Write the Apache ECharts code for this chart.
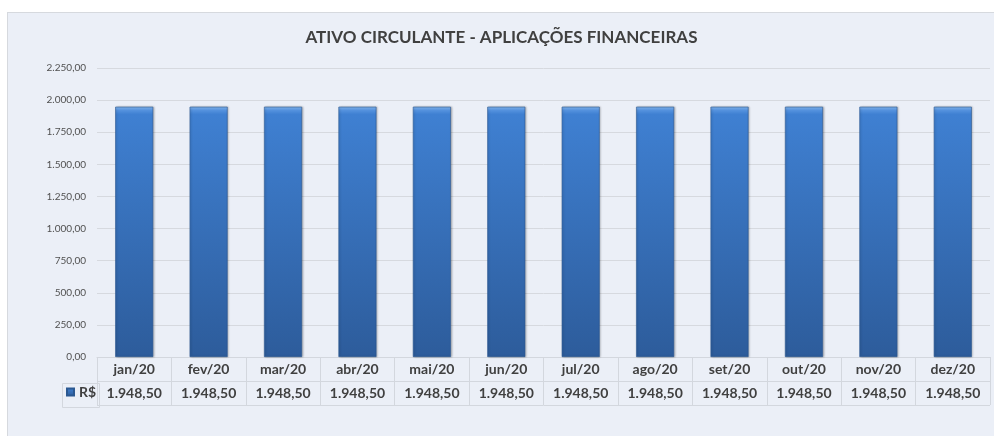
<!DOCTYPE html>
<html>
<head>
<meta charset="utf-8">
<script src="https://cdn.jsdelivr.net/npm/echarts@6/dist/echarts.min.js"></script>
<style>
  html, body { margin: 0; padding: 0; background: #ffffff; }
  .panel {
    position: absolute;
    left: 7px;
    top: 12px;
    width: 987px;
    height: 430px;
    border-left: 1px solid #d6d9de;
    border-top: 1px solid #d6d9de;
    background: #ebeff7;
  }
</style>
</head>
<body>
<div class="panel" id="chart"></div>
<script>
const months = ['jan/20', 'fev/20', 'mar/20', 'abr/20', 'mai/20', 'jun/20',
  'jul/20', 'ago/20', 'set/20', 'out/20', 'nov/20', 'dez/20']
const values = [1948.5, 1948.5, 1948.5, 1948.5, 1948.5, 1948.5,
  1948.5, 1948.5, 1948.5, 1948.5, 1948.5, 1948.5]
const seriesName = 'R$'
const yMin = 0
const yMax = 2250
const yStep = 250

// formato brasileiro: 1.948,50
function fmtBR (n) {
  const parts = n.toFixed(2).split('.')
  return parts[0].replace(/\B(?=(\d{3})+(?!\d))/g, '.') + ',' + parts[1]
}

const border = '#d3d7de'
const textColor = '#404040'
const font = 'Lato'

const barColor = new echarts.graphic.LinearGradient(0, 0, 0, 1, [
  {offset: 0, color: '#86b8f0'},
  {offset: 0.014, color: '#5592de'},
  {offset: 0.03, color: '#3f80d2'},
  {offset: 1, color: '#2d5c9b'}
])

const chart = echarts.init(document.getElementById('chart'))
const option = {
  animation: false,
  title: {
    text: 'ATIVO CIRCULANTE - APLICAÇÕES FINANCEIRAS',
    left: 'center',
    top: 11,
    textStyle: {
      fontFamily: font,
      fontWeight: 'bold',
      fontSize: 17,
      color: textColor
    }
  },
  legend: {
    data: [seriesName],
    left: 58,
    top: 372,
    padding: 0,
    icon: 'rect',
    itemWidth: 7,
    itemHeight: 7,
    itemGap: 4,
    formatter: '{b|{name}}',
    textStyle: {
      rich: {
        b: {fontFamily: font, fontWeight: 'bold', fontSize: 14, color: textColor}
      }
    }
  },
  grid: [
    {left: 89, right: 5, top: 55, height: 289},
    {left: 89, right: 5, top: 344, height: 48}
  ],
  xAxis: [
    {
      type: 'category',
      gridIndex: 0,
      data: months,
      axisLine: {show: true, lineStyle: {color: border}},
      axisTick: {show: false},
      axisLabel: {
        interval: 0,
        margin: 0,
        formatter: function (v, i) {
          return '{c|' + v + '}\n{v|' + fmtBR(values[i]) + '}'
        },
        rich: {
          c: {fontFamily: font, fontWeight: 'bold', fontSize: 14, color: textColor, lineHeight: 24},
          v: {fontFamily: font, fontWeight: 'bold', fontSize: 14, color: textColor, lineHeight: 24}
        }
      }
    },
    {
      // linhas verticais da tabela de dados
      type: 'category',
      gridIndex: 1,
      data: months,
      axisLine: {show: false},
      axisTick: {show: false},
      axisLabel: {show: false},
      splitLine: {show: true, interval: 0, lineStyle: {color: border}}
    }
  ],
  yAxis: [
    {
      type: 'value',
      gridIndex: 0,
      min: yMin,
      max: yMax,
      interval: yStep,
      axisLine: {show: false},
      axisTick: {show: false},
      axisLabel: {
        margin: 11,
        fontFamily: font,
        fontSize: 10,
        color: '#505050',
        formatter: function (v) { return fmtBR(v) }
      },
      splitLine: {lineStyle: {color: '#d6d9df'}}
    },
    {
      // linhas horizontais da tabela de dados
      type: 'category',
      gridIndex: 1,
      data: ['', ''],
      axisLine: {show: false},
      axisTick: {show: false},
      axisLabel: {show: false},
      splitLine: {show: true, interval: 0, lineStyle: {color: border}}
    }
  ],
  graphic: [
    {
      // celula da legenda
      type: 'rect',
      left: 52,
      top: 368,
      shape: {width: 37, height: 24},
      style: {fill: 'none', stroke: border, lineWidth: 1},
      silent: true
    }
  ],
  series: [
    {
      name: seriesName,
      type: 'bar',
      xAxisIndex: 0,
      yAxisIndex: 0,
      data: values,
      barWidth: 38,
      itemStyle: {
        color: barColor,
        borderColor: '#2b5891',
        borderWidth: 0.6,
        shadowColor: 'rgba(0, 0, 0, 0.25)',
        shadowBlur: 2,
        shadowOffsetX: 1
      }
    }
  ]
}
chart.setOption(option)
</script>
</body>
</html>
